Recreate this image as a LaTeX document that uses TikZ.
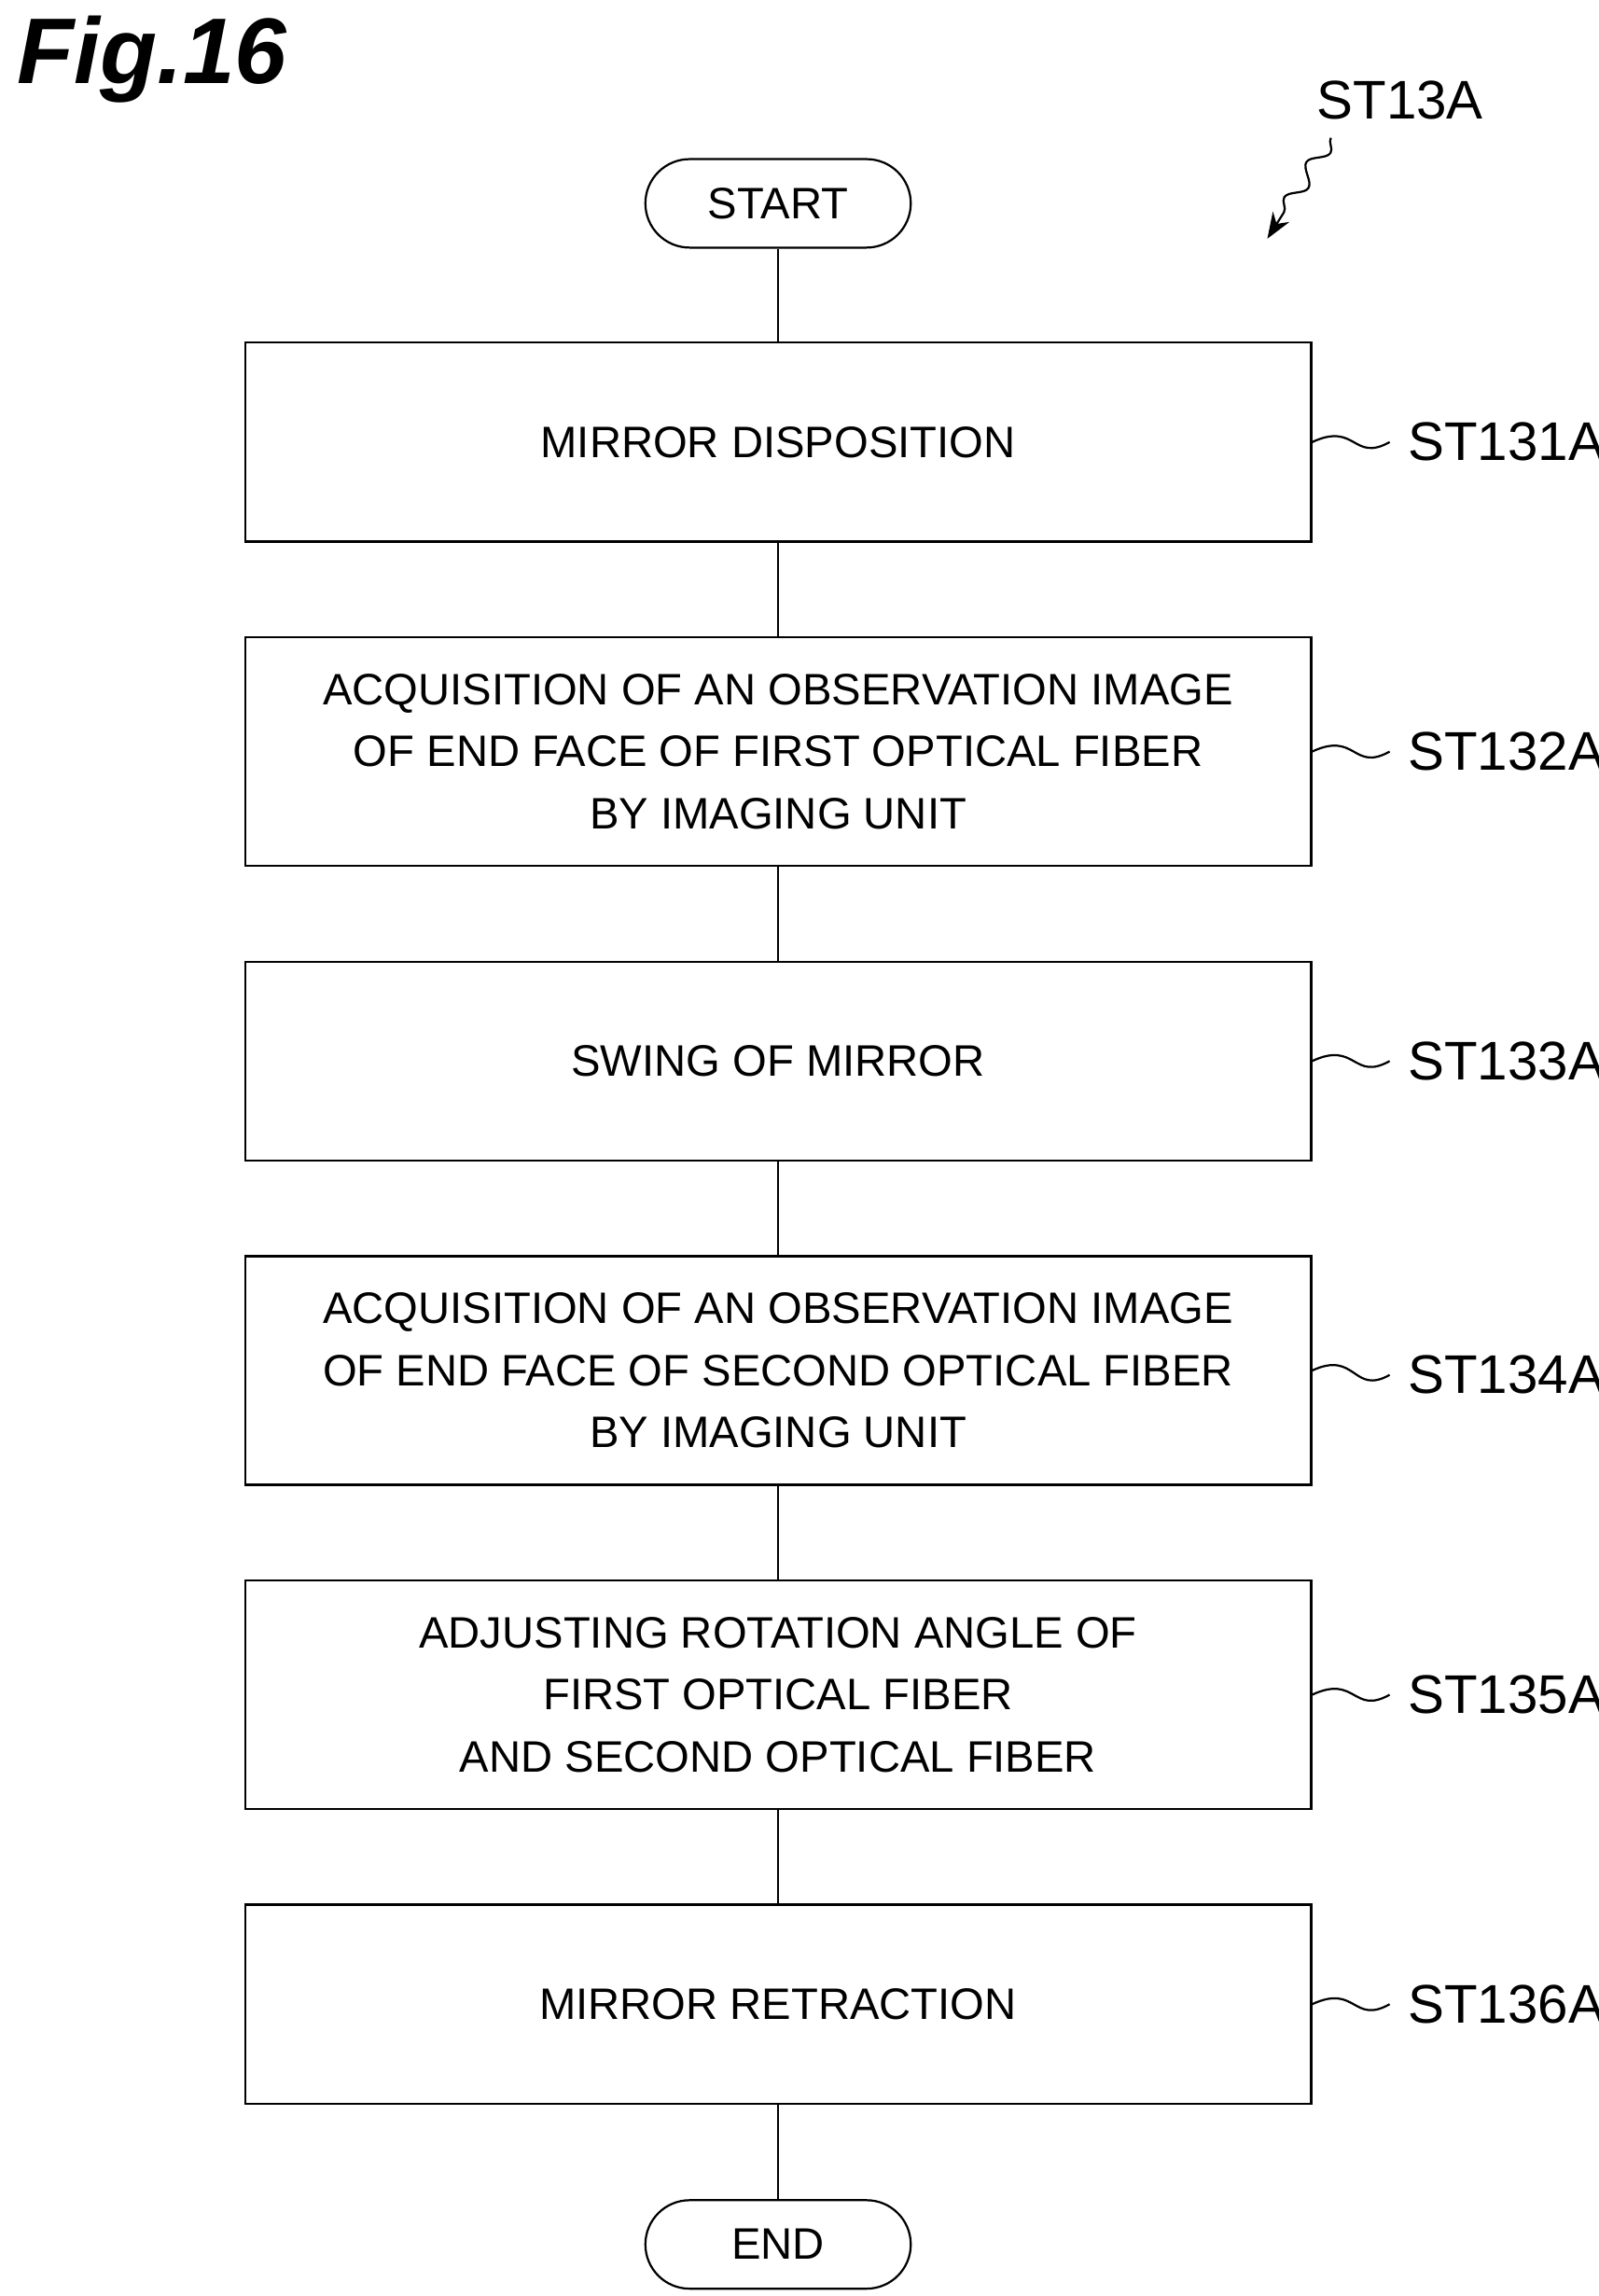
\documentclass[tikz,border=0pt]{standalone}
\usepackage{fontspec}
\setmainfont{Liberation Sans}
\usetikzlibrary{arrows.meta,decorations.pathmorphing}
\tikzset{
  stepbox/.style={draw,minimum width=7.23cm,align=center,font=\fontsize{8.5}{12}\selectfont},
  termbox/.style={draw,rounded corners=0.3cm,minimum width=1.8cm,minimum height=0.6cm,font=\fontsize{8.5}{10}\selectfont},
  steplabel/.style={anchor=west,font=\fontsize{10.5}{12}\selectfont},
}
\begin{document}
\begin{tikzpicture}[x=0.01cm,y=-0.01cm]
\useasboundingbox (0,0) rectangle (1085,1558);
\node[font=\bfseries\itshape\fontsize{18}{20}\selectfont] (fig) at (103,40) {Fig.16};
\node[termbox] (start) at (528,138) {START};
\node[stepbox,minimum height=1.35cm] (s1) at (528,300) {MIRROR DISPOSITION};
\node[stepbox,minimum height=1.55cm] (s2) at (528,510) {ACQUISITION OF AN OBSERVATION IMAGE\\OF END FACE OF FIRST OPTICAL FIBER\\BY IMAGING UNIT};
\node[stepbox,minimum height=1.35cm] (s3) at (528,720) {SWING OF MIRROR};
\node[stepbox,minimum height=1.55cm] (s4) at (528,930) {ACQUISITION OF AN OBSERVATION IMAGE\\OF END FACE OF SECOND OPTICAL FIBER\\BY IMAGING UNIT};
\node[stepbox,minimum height=1.55cm] (s5) at (528,1150) {ADJUSTING ROTATION ANGLE OF\\FIRST OPTICAL FIBER\\AND SECOND OPTICAL FIBER};
\node[stepbox,minimum height=1.35cm] (s6) at (528,1360) {MIRROR RETRACTION};
\node[termbox] (end) at (528,1523) {END};
\draw (start) -- (s1) -- (s2) -- (s3) -- (s4) -- (s5) -- (s6) -- (end);
% step labels
\node[steplabel] (l1) at (943,300) {ST131A};
\node[steplabel] (l2) at (943,510) {ST132A};
\node[steplabel] (l3) at (943,720) {ST133A};
\node[steplabel] (l4) at (943,933) {ST134A};
\node[steplabel] (l5) at (943,1150) {ST135A};
\node[steplabel] (l6) at (943,1360) {ST136A};
\foreach \i in {1,...,6}
  \draw (s\i.east) .. controls +(30,-14) and +(-25,14) .. (l\i.west);
\node[font=\fontsize{10.5}{12}\selectfont] (fl) at (950,68) {ST13A};
\coordinate (fa) at (860,162);
\draw[-{Stealth[length=5pt]},decorate,decoration={snake,amplitude=1.5pt,segment length=8pt,post length=5pt}] (fl.south west) ++(22,0) -- (fa);
\end{tikzpicture}
\end{document}
